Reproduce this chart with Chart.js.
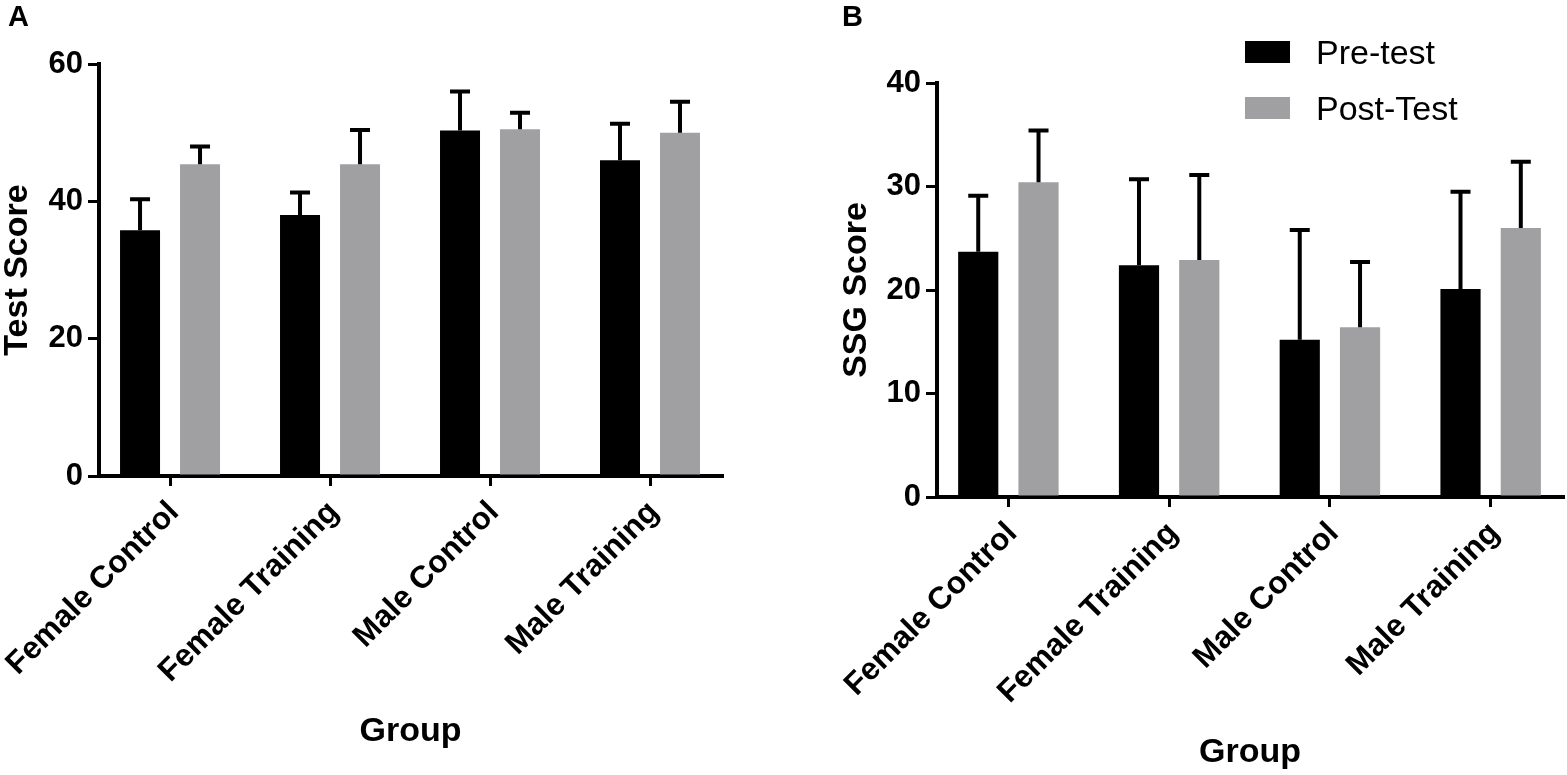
<!DOCTYPE html>
<html><head><meta charset="utf-8">
<script src="https://cdn.jsdelivr.net/npm/chart.js@4"></script>
<style>
html,body{margin:0;padding:0;background:#fff;}
#wrap{position:relative;width:1567px;height:775px;overflow:hidden;font-family:"Liberation Sans",Arial,Helvetica,sans-serif;color:#000;}
#wrap canvas{position:absolute;top:0;}
.panel{position:absolute;top:0px;font-weight:bold;font-size:29px;line-height:32px;}
.lg{position:absolute;left:1245px;height:34px;font-size:34px;line-height:34px;white-space:nowrap;}
.lg span{position:absolute;left:0;top:6px;width:45px;height:22px;}
.lg b{position:absolute;left:71px;top:0;font-weight:normal;}
</style></head>
<body>
<div id="wrap">
  <canvas id="cA" width="783" height="775" style="left:0"></canvas>
  <canvas id="cB" width="784" height="775" style="left:783px"></canvas>
  <div class="panel" style="left:8px">A</div>
  <div class="panel" style="left:842px">B</div>
  <div id="legend"></div>
</div>
<script>
// ---- data ----
const categories = ['Female Control', 'Female Training', 'Male Control', 'Male Training'];
const seriesNames = ['Pre-test', 'Post-Test'];
const seriesColors = ['#000000', '#a0a0a3'];

const testPre     = [35.8, 38.0, 50.3, 46.0];
const testPreErr  = [4.5, 3.3, 5.7, 5.3];
const testPost    = [45.4, 45.4, 50.5, 50.0];
const testPostErr = [2.6, 5.0, 2.4, 4.5];

const ssgPre      = [23.7, 22.4, 15.2, 20.1];
const ssgPreErr   = [5.4, 8.3, 10.6, 9.4];
const ssgPost     = [30.4, 22.9, 16.4, 26.0];
const ssgPostErr  = [5.0, 8.2, 6.3, 6.4];

const FONT = '"Liberation Sans", Arial, Helvetica, sans-serif';

const errorBars = {
  id: 'errorBars',
  afterDatasetsDraw(chart) {
    const ctx = chart.ctx;
    const ys = chart.scales.y;
    chart.data.datasets.forEach((ds, i) => {
      const meta = chart.getDatasetMeta(i);
      meta.data.forEach((el, j) => {
        const v = ds.data[j].y, e = ds.errors[j];
        const top = ys.getPixelForValue(v + e);
        ctx.save();
        ctx.strokeStyle = '#000';
        ctx.lineWidth = 4;
        ctx.lineCap = 'butt';
        ctx.beginPath();
        ctx.moveTo(el.x, el.y);
        ctx.lineTo(el.x, top);
        ctx.moveTo(el.x - 10, top);
        ctx.lineTo(el.x + 10, top);
        ctx.stroke();
        ctx.restore();
      });
    });
  }
};

function makeChart(id, pre, preErr, post, postErr, yMax, yStep, yTitle, g) {
  const toPts = arr => arr.map((v, i) => ({ x: i, y: v }));
  return new Chart(document.getElementById(id), {
    type: 'bar',
    data: {
      datasets: [
        { label: seriesNames[0], data: toPts(pre), errors: preErr, backgroundColor: seriesColors[0] },
        { label: seriesNames[1], data: toPts(post), errors: postErr, backgroundColor: seriesColors[1] }
      ]
    },
    options: {
      responsive: false,
      animation: false,
      events: [],
      categoryPercentage: 0.75,
      barPercentage: 0.6667,
      borderWidth: 0,
      layout: { padding: { left: g.padL, right: g.padR, top: g.padT, bottom: 0 } },
      plugins: { legend: { display: false }, tooltip: { enabled: false } },
      scales: {
        x: {
          type: 'linear',
          min: -0.444, max: 3.45,
          offset: false,
          afterBuildTicks: s => { s.ticks = categories.map((_, i) => ({ value: i })); },
          afterFit: s => { s.height = g.xH; s.paddingLeft = 0; s.paddingRight = 0; },
          grid: { offset: false, drawOnChartArea: false, drawTicks: true, tickLength: 10, tickWidth: 3, lineWidth: 3, tickColor: '#000', color: '#000' },
          border: { display: true, width: 4, color: '#000' },
          ticks: {
            autoSkip: false, minRotation: 45, maxRotation: 45, padding: 8, labelOffset: 4, color: '#000',
            font: { family: FONT, size: 31.5, weight: 'bold' },
            callback: v => categories[v]
          },
          title: { display: true, text: 'Group', color: '#000',
            font: { family: FONT, size: 34, weight: 'bold', lineHeight: 1 },
            padding: { top: 0, bottom: g.titleB } }
        },
        y: {
          min: 0, max: yMax,
          afterFit: s => { s.width = g.yW; s.paddingTop = 0; s.paddingBottom = 0; },
          grid: { drawOnChartArea: false, drawTicks: true, tickLength: 11, tickWidth: 3, lineWidth: 3, tickColor: '#000', color: '#000' },
          border: { display: true, width: 4, color: '#000' },
          ticks: { stepSize: yStep, padding: 5, color: '#000', font: { family: FONT, size: 31, weight: 'bold' } },
          title: { display: true, text: yTitle, color: '#000',
            font: { family: FONT, size: 34, weight: 'bold', lineHeight: 1 },
            padding: { top: 1, bottom: 0 } }
        }
      }
    },
    plugins: [errorBars]
  });
}

makeChart('cA', testPre, testPreErr, testPost, testPostErr, 60, 20, 'Test Score',
  { padL: 0, padR: 61, padT: 64, yW: 99, xH: 299, titleB: 26 });
makeChart('cB', ssgPre, ssgPreErr, ssgPost, ssgPostErr, 40, 10, 'SSG Score',
  { padL: 56, padR: 4, padT: 83, yW: 98, xH: 278, titleB: 5 });

// legend
const leg = document.getElementById('legend');
const legTops = [35, 91];
seriesNames.forEach((n, i) => {
  const d = document.createElement('div');
  d.className = 'lg';
  d.style.top = legTops[i] + 'px';
  const sw = document.createElement('span');
  sw.style.background = seriesColors[i];
  const t = document.createElement('b');
  t.textContent = n;
  d.appendChild(sw); d.appendChild(t);
  leg.appendChild(d);
});
</script>
</body></html>
